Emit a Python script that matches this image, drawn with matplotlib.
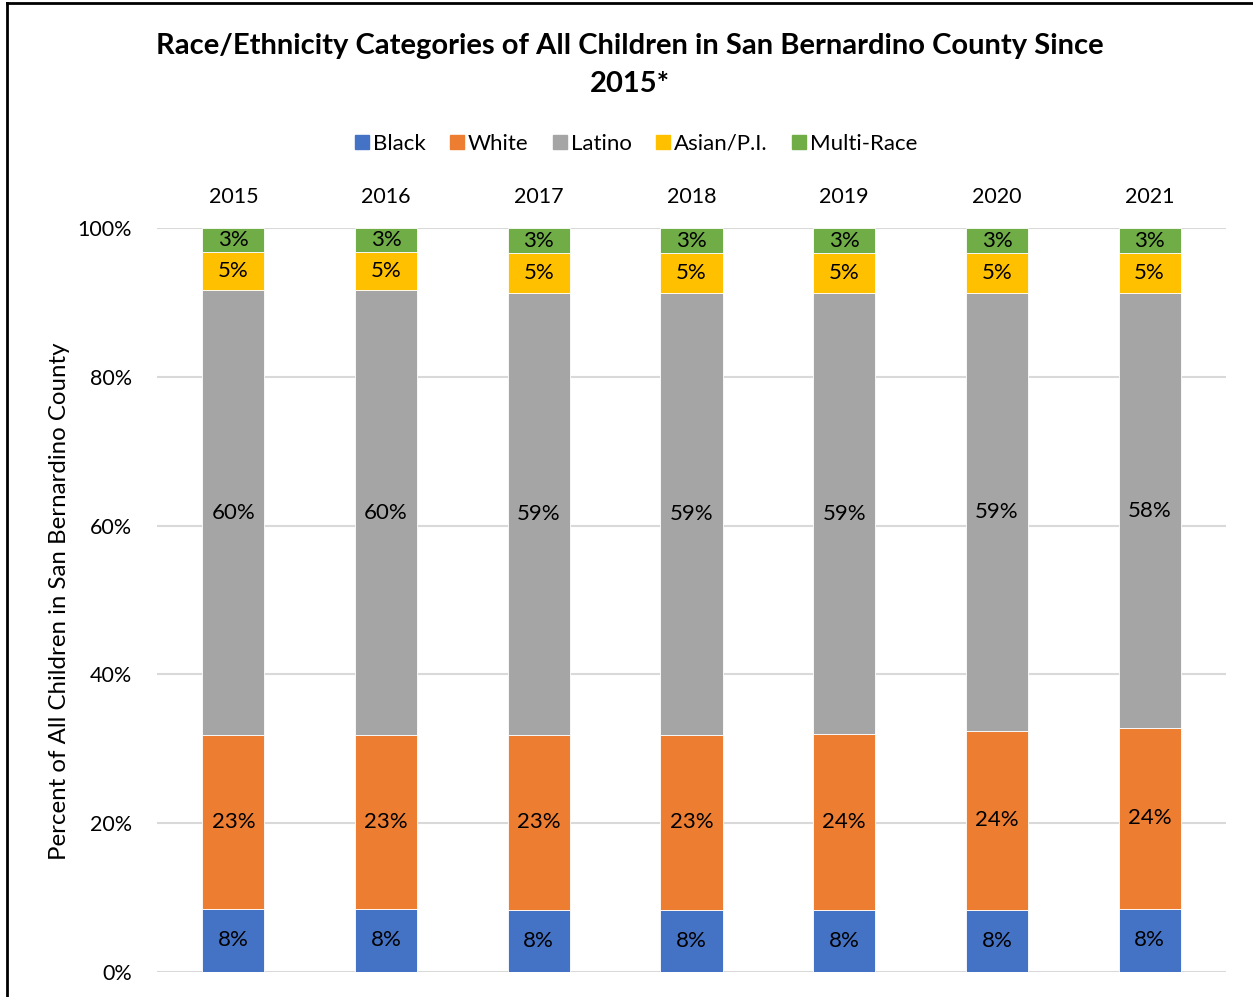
import matplotlib
matplotlib.use("Agg")
import matplotlib.pyplot as plt
import numpy as np
from matplotlib.lines import Line2D
from matplotlib.ticker import FuncFormatter

plt.rcParams.update({"font.family": ["Lato", "DejaVu Sans"]})

years = ["2015", "2016", "2017", "2018", "2019", "2020", "2021"]
groups = ["Black", "White", "Latino", "Asian/P.I.", "Multi-Race"]
black = [8.5, 8.5, 8.4, 8.4, 8.4, 8.4, 8.5]
white = [23.3, 23.3, 23.4, 23.4, 23.6, 24.0, 24.3]
latino = [59.9, 59.8, 59.4, 59.4, 59.2, 58.8, 58.4]
asian = [5.1, 5.2, 5.4, 5.4, 5.4, 5.4, 5.4]
multi = [3.2, 3.2, 3.4, 3.4, 3.4, 3.4, 3.4]
colors = ["#4472C4", "#ED7D31", "#A5A5A5", "#FFC000", "#70AD47"]

W, H = 1253, 997
fig = plt.figure(figsize=(W / 100, H / 100), dpi=100)
ax = fig.add_axes([157 / W, 1 - 972 / H, (1226 - 157) / W, (972 - 228) / H])

x = np.arange(len(years))
bottom = np.zeros(len(years))
for name, vals, c in zip(groups, [black, white, latino, asian, multi], colors):
    vals = np.array(vals)
    ax.bar(x, vals, 0.406, bottom=bottom, color=c, edgecolor="white",
           linewidth=0.6, zorder=3)
    for xi, b, v in zip(x, bottom, vals):
        ax.text(xi, b + v / 2, f"{v:.0f}%", ha="center", va="center",
                fontsize=16, color="black", zorder=4)
    bottom += vals

ax.set_xlim(-0.5, 6.5)
ax.set_ylim(0, 100)
ax.set_yticks([0, 20, 40, 60, 80, 100])
ax.yaxis.set_major_formatter(FuncFormatter(lambda v, p: f"{v:.0f}%"))
ax.grid(axis="y", color="#d9d9d9", linewidth=1.5, zorder=0)
ax.set_axisbelow(True)
ax.xaxis.tick_top()
ax.set_xticks(x)
ax.set_xticklabels(years)
ax.tick_params(axis="x", length=0, pad=15, labelsize=15.5)
ax.tick_params(axis="y", length=0, pad=18, labelsize=15.5)
for s in ax.spines.values():
    s.set_visible(False)

fig.text(60 / W, 1 - 601 / H, "Percent of All Children in San Bernardino County",
         rotation=90, ha="center", va="center", fontsize=17.3)

fig.text(630 / W, 1 - 65 / H,
         "Race/Ethnicity Categories of All Children in San Bernardino County Since\n2015*",
         ha="center", va="center", fontsize=21, weight="bold", linespacing=1.55)

handles = [Line2D([], [], marker="s", linestyle="none", markersize=10,
                  markerfacecolor=c, markeredgecolor=c) for c in colors]
fig.legend(handles, groups, loc="center", bbox_to_anchor=(635 / W, 1 - 144 / H),
           ncol=5, frameon=False, fontsize=16, handletextpad=0.1,
           columnspacing=1.0, handlelength=0.8)

# chart frame (left and top edges visible)
fig.add_artist(Line2D([7 / W, 7 / W], [0, 1 - 3 / H], color="black", linewidth=2))
fig.add_artist(Line2D([7 / W, 1], [1 - 3 / H, 1 - 3 / H], color="black", linewidth=2))

fig.savefig("out.png", dpi=100)
